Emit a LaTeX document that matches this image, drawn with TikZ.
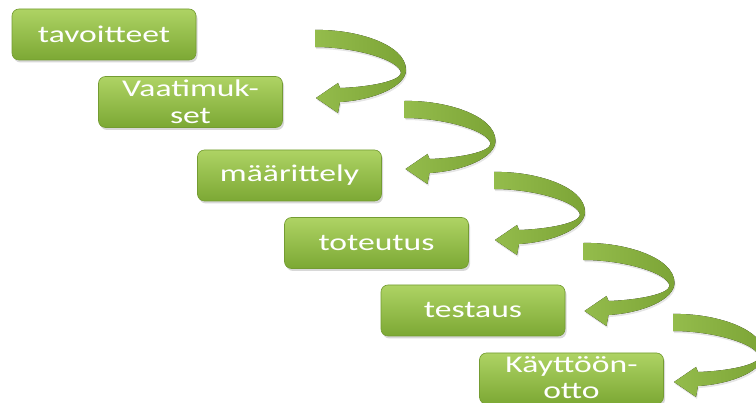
\documentclass[tikz,border=0pt]{standalone}
\usepackage{fontspec}
\newfontfamily\boxfont[FakeStretch=1.4]{Carlito}
\usetikzlibrary{shadows}
\definecolor{boxtop}{RGB}{174,211,100}
\definecolor{boxbot}{RGB}{124,168,52}
\definecolor{boxedge}{RGB}{116,156,50}
\definecolor{arrowA}{RGB}{148,188,76}
\definecolor{arrowB}{RGB}{124,164,54}
\begin{document}
\begin{tikzpicture}[x=1pt,y=-1pt,
  stage/.style={rounded corners=7pt, minimum width=184pt, minimum height=51pt,
    inner sep=0pt, top color=boxtop, bottom color=boxbot, draw=boxedge,
    line width=0.6pt, text=white, align=center,
    font=\boxfont\fontsize{24}{26.5}\selectfont,
    drop shadow={opacity=0.3, shadow xshift=1.5pt, shadow yshift=-2.5pt}},
  ribbon/.pic={
    \fill[left color=arrowA, right color=arrowB,
      drop shadow={opacity=0.2, shadow xshift=1pt, shadow yshift=-2pt}]
      (0,0) .. controls (40,-1) and (91,14) .. (91,40)
      .. controls (91,56) and (60,70) .. (25,72)
      -- (23,83) -- (1,68) -- (23,53) -- (25,58)
      .. controls (55,57) and (85,51) .. (86,43)
      .. controls (85,30) and (40,17) .. (0,17) -- cycle;
  }]
\useasboundingbox (0,0) rectangle (756,403);
\fill[white] (0,0) rectangle (756,403);
\clip (0,0) rectangle (756,403);

\coordinate (a1) at (315,30);
\coordinate (a2) at (404.5,101);
\coordinate (a3) at (494,172);
\coordinate (a4) at (583.5,243);
\coordinate (a5) at (673,314);
\foreach \k in {1,...,5} { \pic at (a\k) {ribbon}; }

\node[stage] (b1) at (104,34.5) {tavoitteet};
\node[stage] (b2) at (190.5,102) {Vaatimuk-\\set};
\node[stage] (b3) at (289.5,175.5) {määrittely};
\node[stage] (b4) at (376.5,243) {toteutus};
\node[stage] (b5) at (473,310.5) {testaus};
\node[stage] (b6) at (571.5,378.5) {\raisebox{1.5pt}{Käyttöön-}\\\raisebox{1.5pt}{otto}};
\end{tikzpicture}
\end{document}
